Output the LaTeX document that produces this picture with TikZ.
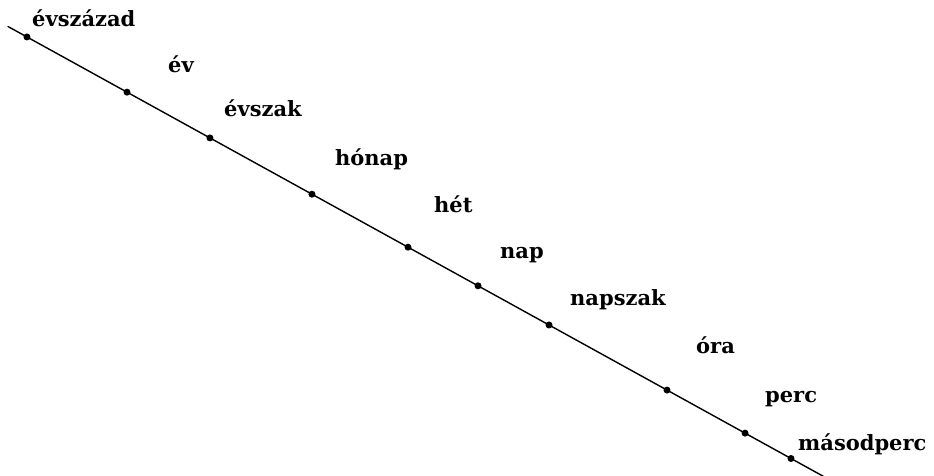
\documentclass[tikz,border=0pt]{standalone}
\usepackage{fontspec}
\setmainfont{DejaVu Serif}
\usetikzlibrary{calc}
\begin{document}
\begin{tikzpicture}[
  x=1pt, y=-1pt,
  line cap=round,
  line join=round,
  every node/.style={font=\bfseries\fontsize{21}{24}\selectfont, inner sep=0pt, anchor=base west},
  pont/.style={fill=black}
]
  \useasboundingbox (0,0) rectangle (934,476);

  % Az idővonal két vége
  \coordinate (S) at (8,26.5);
  \coordinate (E) at (826,477.8);

  % Pontok a vonalon
  \coordinate (p1)  at ($(S)!0.0232!(E)$);
  \coordinate (p2)  at ($(S)!0.1455!(E)$);
  \coordinate (p3)  at ($(S)!0.2469!(E)$);
  \coordinate (p4)  at ($(S)!0.3716!(E)$);
  \coordinate (p5)  at ($(S)!0.4890!(E)$);
  \coordinate (p6)  at ($(S)!0.5746!(E)$);
  \coordinate (p7)  at ($(S)!0.6614!(E)$);
  \coordinate (p8)  at ($(S)!0.8056!(E)$);
  \coordinate (p9)  at ($(S)!0.9010!(E)$);
  \coordinate (p10) at ($(S)!0.9572!(E)$);

  % A vonal
  \draw[line width=1.4pt] (S)--(E);

  % Pontok
  \fill[pont] (p1)  circle (3.5);
  \fill[pont] (p2)  circle (3.5);
  \fill[pont] (p3)  circle (3.5);
  \fill[pont] (p4)  circle (3.5);
  \fill[pont] (p5)  circle (3.5);
  \fill[pont] (p6)  circle (3.5);
  \fill[pont] (p7)  circle (3.5);
  \fill[pont] (p8)  circle (3.5);
  \fill[pont] (p9)  circle (3.5);
  \fill[pont] (p10) circle (3.5);

  % Feliratok
  \node (evszazad)   at (32,27)  {évszázad};
  \node (ev)         at (168,73) {év};
  \node (evszak)     at (224,117) {évszak};
  \node (honap)      at (335,165) {hónap};
  \node (het)        at (434,212) {hét};
  \node (nap)        at (500,258) {nap};
  \node (napszak)    at (570,305) {napszak};
  \node (ora)        at (696,353) {óra};
  \node (perc)       at (765,402) {perc};
  \node (masodperc)  at (798,450) {másodperc};
\end{tikzpicture}
\end{document}
